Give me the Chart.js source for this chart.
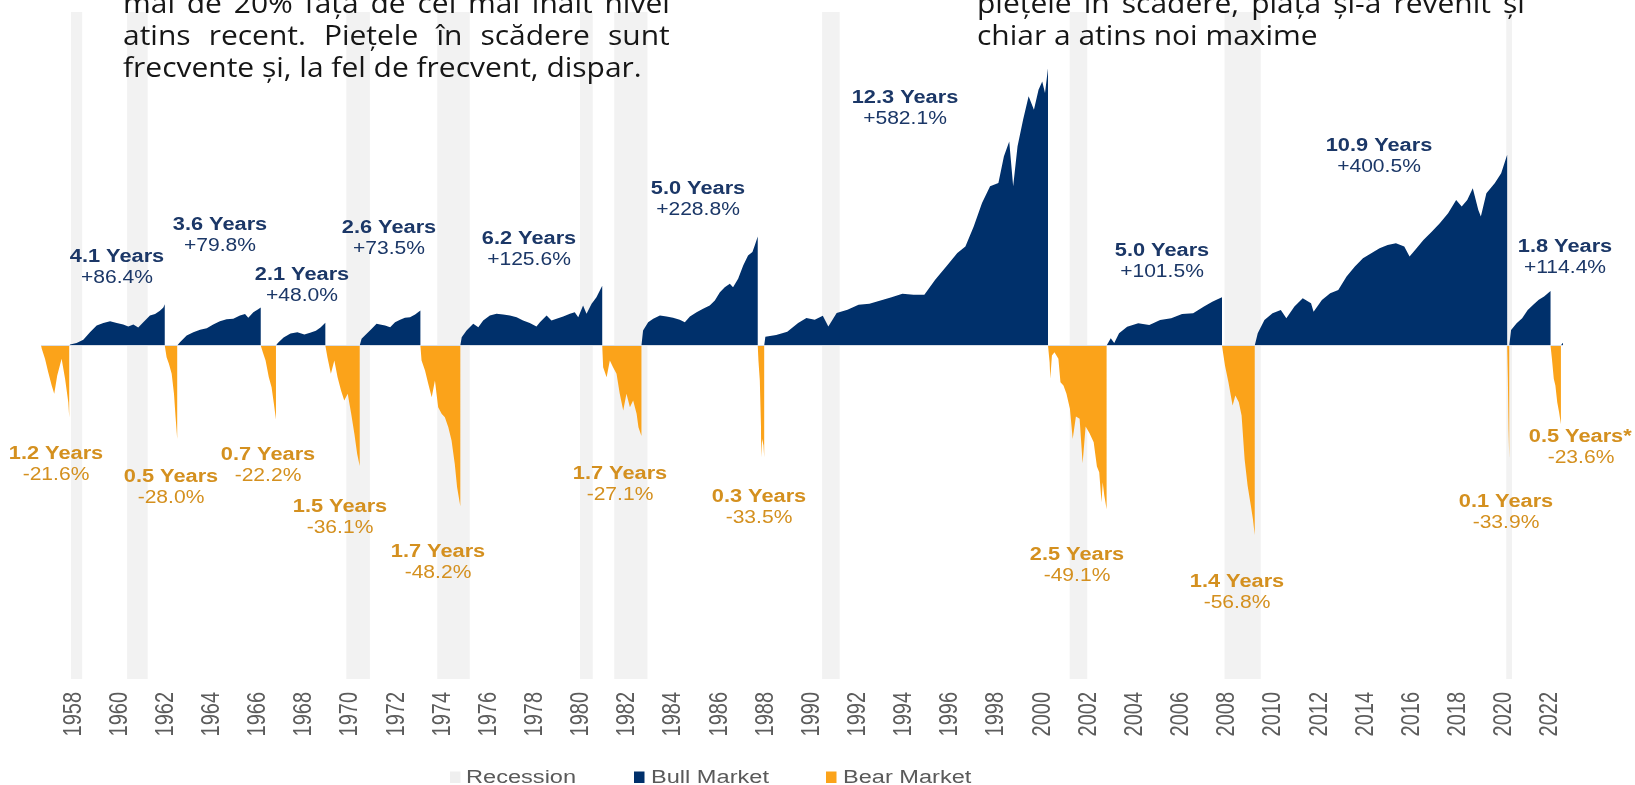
<!DOCTYPE html>
<html lang="ro">
<head>
  <meta charset="UTF-8" />
  <title>Piețe bull și bear</title>
  <script src="https://cdn.jsdelivr.net/npm/chart.js"></script>
  <style>
    html, body { margin: 0; padding: 0; background: #fff; overflow: hidden; }
    #wrap { position: relative; width: 1635px; height: 785px; overflow: hidden; }
    canvas { position: absolute; left: 0; top: 0; }
    .note {
      position: absolute;
      font-family: "Open Sans", sans-serif;
      font-size: 28px;
      line-height: 32px;
      color: #161616;
      transform-origin: 0 0;
      transform: scaleX(1.07);
    }
    .note div { white-space: nowrap; }
    .note div.j { white-space: normal; text-align: justify; text-align-last: justify; }
  </style>
</head>
<body>
<div id="wrap">
  <canvas id="marketChart" width="1635" height="785"></canvas>
  <div class="note" style="left:123px; top:-14px; width:511px;">
    <div class="j">mai de 20% față de cel mai înalt nivel</div>
    <div class="j">atins recent. Piețele în scădere sunt</div>
    <div>frecvente și, la fel de frecvent, dispar.</div>
  </div>
  <div class="note" style="left:977px; top:-14px; width:512px;">
    <div class="j">piețele în scădere, piața și-a revenit și</div>
    <div>chiar a atins noi maxime</div>
  </div>
</div>

<script>
  // [year, % change from start of the phase]
  const bear_1956 = [[1956.59,0],[1956.62,-1],[1956.76,-4],[1956.9,-8],[1957.05,-12],[1957.16,-14.5],[1957.29,-9],[1957.48,-4],[1957.63,-10],[1957.77,-17],[1957.81,-21.6],[1957.81,0]];
  const bull_1957 = [[1957.81,0],[1957.85,2],[1958.13,5],[1958.42,12],[1958.71,28],[1959.0,42],[1959.29,47],[1959.58,51],[1959.87,47],[1960.15,44],[1960.37,40],[1960.59,44],[1960.8,38],[1961.02,49],[1961.31,63],[1961.53,66],[1961.74,73],[1961.89,80],[1961.95,86.4],[1961.95,0]];
  const bear_1961 = [[1961.95,0],[1962.03,-3.5],[1962.13,-5.5],[1962.25,-8.5],[1962.35,-14.5],[1962.42,-21.5],[1962.49,-28.0],[1962.49,0]];
  const bull_1962 = [[1962.49,0],[1962.61,7],[1962.9,21],[1963.19,28],[1963.48,33],[1963.77,36],[1964.05,44],[1964.34,51],[1964.63,55],[1964.92,56],[1965.21,63],[1965.43,66],[1965.57,58],[1965.79,70],[1966.0,76],[1966.11,79.8],[1966.11,0]];
  const bear_1966 = [[1966.11,0],[1966.2,-2],[1966.32,-4.5],[1966.46,-9.5],[1966.58,-12.5],[1966.68,-17.5],[1966.77,-22.2],[1966.77,0]];
  const bull_1966 = [[1966.77,0],[1966.85,5],[1967.1,17],[1967.4,25],[1967.7,28],[1968.0,23],[1968.25,27],[1968.5,31],[1968.7,38],[1968.91,48.0],[1968.91,0]];
  const bear_1968 = [[1968.91,0],[1969.0,-3.5],[1969.15,-8.5],[1969.3,-4.5],[1969.44,-9.5],[1969.59,-13.5],[1969.73,-16.5],[1969.88,-14.5],[1970.03,-20.5],[1970.17,-26.5],[1970.29,-32.5],[1970.4,-36.1],[1970.4,0]];
  const bull_1970 = [[1970.4,0],[1970.48,14],[1970.7,24.5],[1970.92,35],[1971.13,45.5],[1971.28,44],[1971.5,42],[1971.72,38.5],[1971.93,49],[1972.15,54],[1972.36,58],[1972.58,59.5],[1972.8,65],[1973.03,73.5],[1973.03,0]];
  const bear_1973 = [[1973.03,0],[1973.08,-4.5],[1973.23,-7.5],[1973.37,-11.5],[1973.52,-15.5],[1973.66,-10.5],[1973.8,-18.5],[1973.95,-20.5],[1974.09,-21.5],[1974.24,-24.5],[1974.38,-28.5],[1974.52,-35.5],[1974.62,-42.5],[1974.76,-48.2],[1974.76,0]];
  const bull_1974 = [[1974.76,0],[1974.82,17.5],[1975.03,31.5],[1975.32,45.5],[1975.54,38.5],[1975.75,52.5],[1976.04,63],[1976.33,66.5],[1976.62,65],[1976.91,63],[1977.2,59.5],[1977.48,52.5],[1977.77,47],[1978.06,40],[1978.21,49],[1978.5,63],[1978.71,52.5],[1978.93,56],[1979.22,61],[1979.51,66.5],[1979.72,70],[1979.87,59.5],[1980.08,84],[1980.23,66.5],[1980.45,87.5],[1980.66,101.5],[1980.91,125.6],[1980.91,0]];
  const bear_1980 = [[1980.91,0],[1980.95,-6.5],[1981.1,-9.5],[1981.24,-4.5],[1981.38,-6.5],[1981.53,-8.5],[1981.67,-14.5],[1981.82,-19.5],[1981.96,-14.5],[1982.11,-18.5],[1982.25,-16.5],[1982.4,-20.5],[1982.48,-24.5],[1982.61,-27.1],[1982.61,0]];
  const bull_1982 = [[1982.61,0],[1982.68,31.5],[1982.9,49],[1983.12,56],[1983.41,63],[1983.7,61],[1983.98,58],[1984.27,54],[1984.49,49],[1984.71,61],[1985.0,70],[1985.28,77],[1985.57,84],[1985.79,94.5],[1986.01,112],[1986.22,122.5],[1986.44,129.5],[1986.58,122.5],[1986.8,140],[1987.02,168],[1987.23,189],[1987.42,196],[1987.52,210],[1987.65,228.8],[1987.65,0]];
  const bear_1987 = [[1987.65,0],[1987.68,-4.5],[1987.74,-10.5],[1987.79,-24],[1987.8,-33.5],[1987.84,-28],[1987.9,-30],[1987.93,-33.5],[1987.93,0]];
  const bull_1987 = [[1987.93,0],[1987.98,18.5],[1988.45,22],[1988.93,29],[1989.4,47],[1989.76,57.5],[1990.12,54],[1990.47,62.5],[1990.71,40],[1991.07,68],[1991.54,75],[1992.02,85.5],[1992.49,87.5],[1992.97,94.5],[1993.45,101.5],[1993.92,108.5],[1994.4,106.5],[1994.87,106.5],[1995.34,138],[1995.82,166],[1996.3,194],[1996.65,208],[1997.01,250],[1997.37,299],[1997.72,334],[1998.08,341],[1998.32,397],[1998.55,428],[1998.72,334],[1998.91,418],[1999.15,474],[1999.39,523],[1999.62,495],[1999.82,537],[1999.98,554],[2000.1,530],[2000.23,582.1],[2000.23,0]];
  const bear_2000 = [[2000.23,0],[2000.3,-5],[2000.33,-10],[2000.4,-3],[2000.51,-2],[2000.68,-4],[2000.77,-11],[2000.9,-12],[2001.03,-14.5],[2001.18,-19],[2001.3,-28],[2001.44,-21.3],[2001.6,-22],[2001.73,-35.3],[2001.86,-24.3],[2002.03,-26.3],[2002.21,-29],[2002.35,-36.3],[2002.45,-38],[2002.55,-47],[2002.6,-41],[2002.67,-45],[2002.77,-49.1],[2002.77,0]];
  const bull_2002 = [[2002.77,0],[2002.95,15],[2003.1,5],[2003.31,25.5],[2003.66,39.6],[2004.14,46.6],[2004.62,43],[2005.09,53.6],[2005.57,57],[2006.04,66],[2006.52,67.7],[2006.99,81.6],[2007.35,92],[2007.58,97],[2007.77,101.5],[2007.77,0]];
  const bear_2007 = [[2007.77,0],[2007.9,-6],[2008.05,-11],[2008.23,-18],[2008.35,-15],[2008.5,-17],[2008.62,-21],[2008.75,-34],[2008.88,-42],[2009.02,-48],[2009.11,-52],[2009.19,-56.8],[2009.19,0]];
  const bull_2009 = [[2009.19,0],[2009.32,25.6],[2009.61,53.6],[2009.96,67.7],[2010.32,74.7],[2010.56,57],[2010.91,81.6],[2011.27,99],[2011.63,88.6],[2011.74,71],[2012.1,95.6],[2012.46,109.6],[2012.81,116.6],[2013.17,144.6],[2013.53,165.6],[2013.88,183],[2014.24,193.6],[2014.6,204],[2014.95,211],[2015.31,214.6],[2015.67,207.6],[2015.9,186.6],[2016.14,200.6],[2016.5,221.6],[2016.86,239],[2017.21,256.6],[2017.57,277.6],[2017.92,305.6],[2018.16,291.6],[2018.4,305.6],[2018.64,330],[2018.88,284.6],[2018.99,270.6],[2019.23,319.6],[2019.59,340.6],[2019.87,361.6],[2020.13,400.5],[2020.13,0]];
  const bear_2020 = [[2020.13,0],[2020.16,-10],[2020.19,-25],[2020.22,-33.9],[2020.22,0]];
  const bull_2020 = [[2020.22,0],[2020.3,32.5],[2020.54,46.6],[2020.78,57],[2021.02,74.7],[2021.26,85.3],[2021.5,95.8],[2021.73,102.8],[2022.01,114.4],[2022.01,0]];
  const bear_2022 = [[2022.01,0],[2022.07,-4],[2022.15,-10],[2022.22,-12],[2022.3,-17],[2022.38,-20],[2022.46,-23.6],[2022.46,0]];
  const bull_2022 = [[2022.46,0],[2022.5,3],[2022.55,6],[2022.55,0]];

  const bullPhases = [bull_1957, bull_1962, bull_1966, bull_1970, bull_1974, bull_1982, bull_1987, bull_2002, bull_2009, bull_2020, bull_2022];
  const bearPhases = [bear_1956, bear_1961, bear_1966, bear_1968, bear_1973, bear_1980, bear_1987, bear_2000, bear_2007, bear_2020, bear_2022];

  const bullDuration = ["4.1 Years", "3.6 Years", "2.1 Years", "2.6 Years", "6.2 Years", "5.0 Years", "12.3 Years", "5.0 Years", "10.9 Years", "1.8 Years"];
  const bullGain = ["+86.4%", "+79.8%", "+48.0%", "+73.5%", "+125.6%", "+228.8%", "+582.1%", "+101.5%", "+400.5%", "+114.4%"];
  const bearDuration = ["1.2 Years", "0.5 Years", "0.7 Years", "1.5 Years", "1.7 Years", "1.7 Years", "0.3 Years", "2.5 Years", "1.4 Years", "0.1 Years", "0.5 Years*"];
  const bearLoss = ["-21.6%", "-28.0%", "-22.2%", "-36.1%", "-48.2%", "-27.1%", "-33.5%", "-49.1%", "-56.8%", "-33.9%", "-23.6%"];

  const recessionStart = [1957.89, 1960.32, 1969.82, 1973.76, 1979.95, 1981.43, 1990.44, 2001.17, 2007.88, 2020.09];
  const recessionEnd   = [1958.37, 1961.21, 1970.84, 1975.17, 1980.50, 1982.87, 1991.20, 2001.93, 2009.45, 2020.34];

  const tickYears = [1958, 1960, 1962, 1964, 1966, 1968, 1970, 1972, 1974, 1976, 1978, 1980, 1982, 1984, 1986, 1988, 1990,
                     1992, 1994, 1996, 1998, 2000, 2002, 2004, 2006, 2008, 2010, 2012, 2014, 2016, 2018, 2020, 2022];

  const BULL = "#00306b";
  const BEAR = "#fba31a";
  const BULL_TEXT = "#1b3767";
  const BEAR_TEXT = "#d4901f";
  const FONT = "'Liberation Sans', Arial, sans-serif";

  // label anchors in pixels: [centre x, baseline of first line]
  const bullLabelAt = [[117,262],[220,230],[302,280],[389,233],[529,244],[698,194],[905,103],[1162,256],[1379,151],[1565,252]];
  const bearLabelAt = [[56,459],[171,482],[268,460],[340,512],[438,557],[620,479],[759,502],[1077,560],[1237,587],[1506,507],[1576,442]];

  const toXY = arr => arr.map(p => ({ x: p[0], y: p[1] }));

  function stretchText(c, text, x, y, sx, align) {
    c.save();
    c.translate(x, y);
    c.scale(sx, 1);
    c.textAlign = align || "center";
    c.fillText(text, 0, 0);
    c.restore();
  }

  const backdrop = {
    id: "backdrop",
    beforeDatasetsDraw(chart) {
      const c = chart.ctx, x = chart.scales.x, a = chart.chartArea;
      c.save();
      c.fillStyle = "#f2f2f2";
      recessionStart.forEach((s, i) => {
        const x0 = x.getPixelForValue(s), x1 = x.getPixelForValue(recessionEnd[i]);
        c.fillRect(x0, a.top, x1 - x0, a.bottom - a.top);
      });
      c.restore();
    },
    afterDatasetsDraw(chart) {
      const c = chart.ctx, x = chart.scales.x, y = chart.scales.yBull;
      const y0 = y.getPixelForValue(0);
      c.save();
      c.strokeStyle = "#d9dee6";
      c.lineWidth = 1.2;
      c.beginPath();
      c.moveTo(x.getPixelForValue(bear_1956[0][0]), y0);
      c.lineTo(x.getPixelForValue(bull_2022[bull_2022.length - 1][0]), y0);
      c.stroke();
      c.restore();
    }
  };

  const annotations = {
    id: "annotations",
    afterDraw(chart) {
      const c = chart.ctx, x = chart.scales.x;
      c.save();
      c.textBaseline = "alphabetic";

      // phase labels
      bullLabelAt.forEach((p, i) => {
        c.fillStyle = BULL_TEXT;
        c.font = "bold 18px " + FONT;
        stretchText(c, bullDuration[i], p[0], p[1], 1.21);
        c.font = "18px " + FONT;
        stretchText(c, bullGain[i], p[0], p[1] + 21, 1.17);
      });
      bearLabelAt.forEach((p, i) => {
        c.fillStyle = BEAR_TEXT;
        c.font = "bold 18px " + FONT;
        const txt = bearDuration[i];
        if (txt.endsWith("*")) {
          const w = c.measureText(txt.slice(0, -1)).width * 1.21;
          stretchText(c, txt, p[0] - w / 2, p[1], 1.21, "left");
        } else {
          stretchText(c, txt, p[0], p[1], 1.21);
        }
        c.font = "18px " + FONT;
        stretchText(c, bearLoss[i], p[0] + (txt.endsWith("*") ? 5 : 0), p[1] + 21, 1.17);
      });

      // year ticks, rotated
      c.fillStyle = "#5c5c5c";
      c.font = "20px " + FONT;
      c.textAlign = "right";
      c.textBaseline = "middle";
      tickYears.forEach(yr => {
        c.save();
        c.translate(x.getPixelForValue(yr), 692);
        c.rotate(-Math.PI / 2);
        c.scale(1, 1.26);
        c.fillText(String(yr), 0, 0);
        c.restore();
      });

      // legend
      c.textBaseline = "alphabetic";
      c.font = "18px " + FONT;
      const legend = [["Recession", "#efefef", 450, 466], ["Bull Market", BULL, 634, 651], ["Bear Market", BEAR, 826, 843]];
      legend.forEach(l => {
        c.fillStyle = l[1];
        c.fillRect(l[2], 771.5, 10.5, 11.5);
        c.fillStyle = "#5a5a5a";
        stretchText(c, l[0], l[3], 783, 1.31, "left");
      });
      c.restore();
    }
  };

  const ctx = document.getElementById("marketChart").getContext("2d");
  new Chart(ctx, {
    type: "line",
    data: {
      datasets: [
        {
          label: "Bull Market",
          data: toXY(bullPhases.flat()),
          yAxisID: "yBull",
          backgroundColor: BULL,
          borderColor: "rgba(0,0,0,0)",
          borderWidth: 0,
          pointRadius: 0,
          tension: 0,
          fill: "origin"
        },
        {
          label: "Bear Market",
          data: toXY(bearPhases.flat()),
          yAxisID: "yBear",
          backgroundColor: BEAR,
          borderColor: "rgba(0,0,0,0)",
          borderWidth: 0,
          pointRadius: 0,
          tension: 0,
          fill: "origin"
        }
      ]
    },
    options: {
      responsive: false,
      animation: false,
      events: [],
      layout: { padding: { left: 39, right: 57, top: 12, bottom: 106 } },
      scales: {
        x: { type: "linear", min: 1956.5, max: 2023.2, display: false },
        yBull: { min: -700, max: 700, display: false },
        yBear: { min: -100, max: 100, display: false }
      },
      plugins: {
        legend: { display: false },
        tooltip: { enabled: false }
      }
    },
    plugins: [backdrop, annotations]
  });
</script>
</body>
</html>
